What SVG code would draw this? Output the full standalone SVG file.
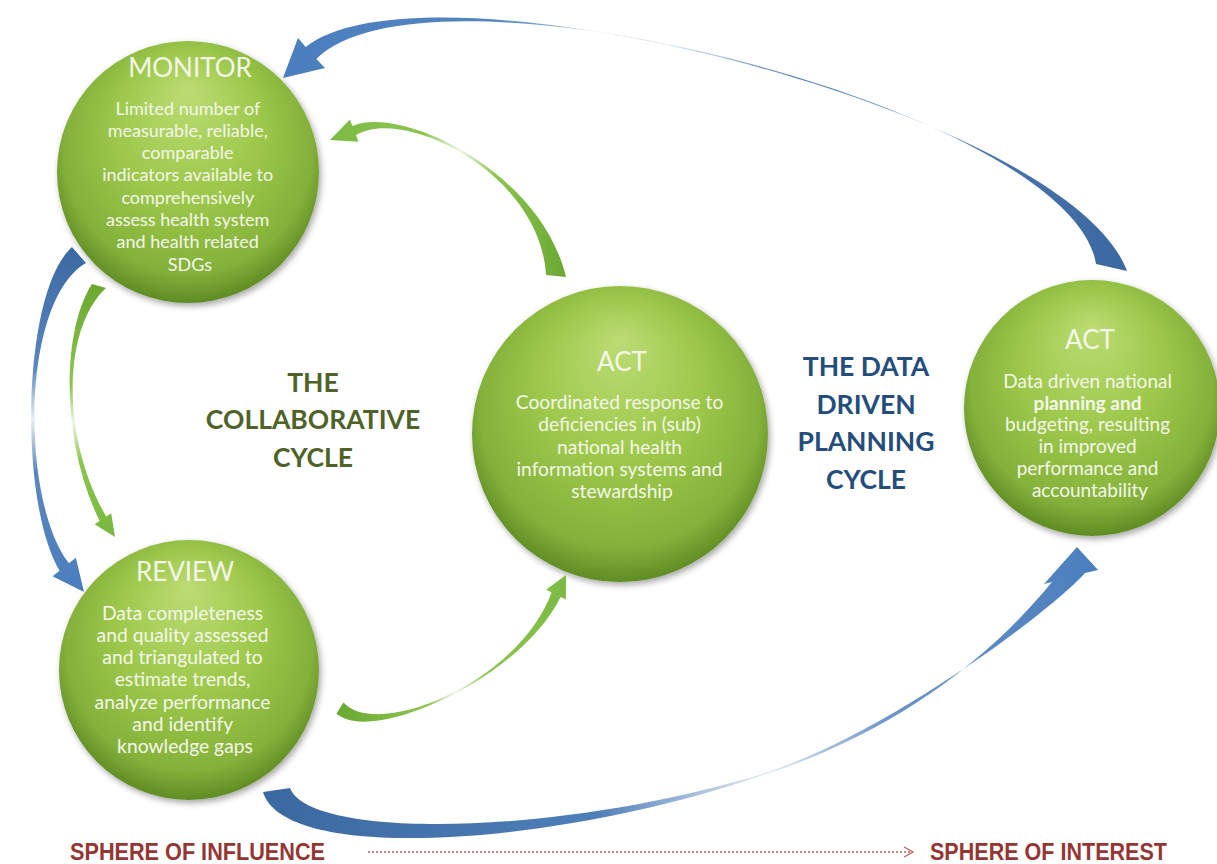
<svg xmlns="http://www.w3.org/2000/svg" width="1217" height="864" viewBox="0 0 1217 864">
<defs>
<style>
.ball{fill:url(#gball);filter:url(#sh);}
.t{font-family:Lato,"Open Sans","DejaVu Sans",sans-serif;fill:#f4f8ea;text-anchor:middle;}
.ttl{font-size:26px;}
.bd{font-size:18px;}
.lab{font-family:Lato,"Open Sans","DejaVu Sans",sans-serif;font-weight:bold;font-size:26.5px;text-anchor:middle;}
.sph{font-family:"Liberation Sans",Arial,sans-serif;font-weight:bold;font-size:24px;fill:#943634;}
</style>
<radialGradient id="gball" cx="0.5" cy="0.45" r="0.55" fx="0.5" fy="0.18">
<stop offset="0" stop-color="#bddc74"/>
<stop offset="0.5" stop-color="#9dc84b"/>
<stop offset="0.86" stop-color="#84b13a"/>
<stop offset="1" stop-color="#5f8c24"/>
</radialGradient>
<filter id="sh" x="-20%" y="-20%" width="140%" height="140%">
<feDropShadow dx="2" dy="3" stdDeviation="3" flood-color="#000" flood-opacity="0.35"/>
</filter>
<linearGradient id="bTop" gradientUnits="userSpaceOnUse" x1="283" y1="0" x2="1127" y2="0">
<stop offset="0" stop-color="#4a7ebd"/>
<stop offset="0.25" stop-color="#5585c0"/>
<stop offset="0.45" stop-color="#dfe8f3"/>
<stop offset="0.6" stop-color="#5b88bf"/>
<stop offset="1" stop-color="#3b68a0"/>
</linearGradient>
<linearGradient id="bBot" gradientUnits="userSpaceOnUse" x1="263" y1="0" x2="1098" y2="0">
<stop offset="0" stop-color="#3b68a0"/>
<stop offset="0.4" stop-color="#4f7fb8"/>
<stop offset="0.6" stop-color="#e3ebf5"/>
<stop offset="0.75" stop-color="#6b95c8"/>
<stop offset="1" stop-color="#4a7ebd"/>
</linearGradient>
<linearGradient id="bLeft" gradientUnits="userSpaceOnUse" x1="0" y1="247" x2="0" y2="592">
<stop offset="0" stop-color="#3b68a0"/>
<stop offset="0.35" stop-color="#5a87bf"/>
<stop offset="0.5" stop-color="#e6edf6"/>
<stop offset="0.65" stop-color="#5a87bf"/>
<stop offset="1" stop-color="#4a7ebd"/>
</linearGradient>
<linearGradient id="gLeft" gradientUnits="userSpaceOnUse" x1="0" y1="284" x2="0" y2="537">
<stop offset="0" stop-color="#6aa832"/>
<stop offset="0.4" stop-color="#8cc550"/>
<stop offset="0.55" stop-color="#eef6e4"/>
<stop offset="0.7" stop-color="#8cc550"/>
<stop offset="1" stop-color="#78b83f"/>
</linearGradient>
<linearGradient id="gTop" gradientUnits="userSpaceOnUse" x1="330" y1="0" x2="566" y2="0">
<stop offset="0" stop-color="#7cbb43"/>
<stop offset="0.4" stop-color="#8cc550"/>
<stop offset="0.55" stop-color="#eef6e4"/>
<stop offset="0.7" stop-color="#8cc550"/>
<stop offset="1" stop-color="#6aa832"/>
</linearGradient>
<linearGradient id="gBot" gradientUnits="userSpaceOnUse" x1="336" y1="0" x2="566" y2="0">
<stop offset="0" stop-color="#6aa832"/>
<stop offset="0.4" stop-color="#8cc550"/>
<stop offset="0.52" stop-color="#eef6e4"/>
<stop offset="0.65" stop-color="#8cc550"/>
<stop offset="1" stop-color="#7cbb43"/>
</linearGradient>
</defs>
<rect width="1217" height="864" fill="#ffffff"/>

<g id="node-monitor">
<circle class="ball" cx="188" cy="172" r="131"/>
<text class="t ttl" x="190" y="77">MONITOR</text>
<text class="t bd">
<tspan x="190" y="114.5">Limited number of</tspan>
<tspan x="190" y="136.8">measurable, reliable,</tspan>
<tspan x="190" y="159.1">comparable</tspan>
<tspan x="190" y="181.4">indicators available to</tspan>
<tspan x="190" y="203.7">comprehensively</tspan>
<tspan x="190" y="226">assess health system</tspan>
<tspan x="190" y="248.3">and health related</tspan>
<tspan x="190" y="270.6">SDGs</tspan>
</text>
</g>

<g id="node-review">
<circle class="ball" cx="189" cy="670" r="130"/>
<text class="t ttl" x="185" y="581">REVIEW</text>
<text class="t bd" style="font-size:19.3px">
<tspan x="185" y="619.5">Data completeness</tspan>
<tspan x="185" y="641.8">and quality assessed</tspan>
<tspan x="185" y="664.1">and  triangulated to</tspan>
<tspan x="185" y="686.4">estimate trends,</tspan>
<tspan x="185" y="708.7">analyze performance</tspan>
<tspan x="185" y="731">and identify</tspan>
<tspan x="185" y="753.3">knowledge  gaps</tspan>
</text>
</g>

<g id="node-act-collab">
<circle class="ball" cx="620" cy="434" r="148"/>
<text class="t ttl" x="622" y="371">ACT</text>
<text class="t bd" style="font-size:19.2px">
<tspan x="622" y="409">Coordinated response to</tspan>
<tspan x="622" y="431">deficiencies in (sub)</tspan>
<tspan x="622" y="453.5">national health</tspan>
<tspan x="622" y="476">information systems and</tspan>
<tspan x="622" y="498">stewardship</tspan>
</text>
</g>

<g id="node-act-plan">
<circle class="ball" cx="1092" cy="408" r="128"/>
<text class="t ttl" x="1090" y="349">ACT</text>
<text class="t bd" style="font-size:19px">
<tspan x="1090" y="388">Data driven national</tspan>
<tspan x="1090" y="409.5" font-weight="bold">planning and</tspan>
<tspan x="1090" y="431">budgeting, resulting</tspan>
<tspan x="1090" y="453">in improved</tspan>
<tspan x="1090" y="475">performance  and</tspan>
<tspan x="1090" y="497">accountability</tspan>
</text>
</g>

<g id="connectors">
<path fill="url(#bTop)" d="M1127,271 C1068,111 430,-50 305.7,47 L298,38 L283,78 L325,68 L316.3,59 C430,-54 1072,109 1096,264 Z"/>
<path fill="url(#bBot)" d="M263,792 C285,865 560,845 760,776 C880,738 980,670 1052,582 L1044,584 L1077,547 L1098,570 L1085,573 C1045,617 880,737 762,774 C560,836 310,840 290,788 Z"/>
<path fill="url(#bLeft)" d="M72,247 C22,292 18,500 59.5,570.7 L52.5,576.3 L84,592 L75.9,557.7 L68.9,563.3 C20,500 21,300 86,263 Z"/>
<path fill="url(#gLeft)" d="M92,284 C62,330 60,440 99.6,520.9 L94.6,524.2 L115,537 L111.2,513.2 L106.2,516.5 C62,440 61,330 106,288 Z"/>
<path fill="url(#gTop)" d="M566,277 C540,170 400,105 352.4,125.9 L349.9,119.4 L330,140 L358.5,141.8 L356,135.3 C402,106 540,172 546,275 Z"/>
<path fill="url(#gBot)" d="M336.5,713.6 C370,745 520,680 560.6,596.9 L565.9,599.6 L566,575 L546.3,589.6 L551.6,592.4 C518,683 378,740 343.5,702.4 Z"/>
<line x1="368" y1="852" x2="910" y2="852" stroke="#b9605d" stroke-width="1.3" stroke-dasharray="2,2"/>
<polyline points="904,847 913,852 904,857" fill="none" stroke="#b9605d" stroke-width="1.3"/>
</g>

<g id="labels">
<text class="lab" fill="#4f6228"><tspan x="313" y="392">THE</tspan><tspan x="313" y="429">COLLABORATIVE</tspan><tspan x="313" y="467">CYCLE</tspan></text>
<text class="lab" fill="#244d7c"><tspan x="866" y="376">THE DATA</tspan><tspan x="866" y="414">DRIVEN</tspan><tspan x="866" y="451">PLANNING</tspan><tspan x="866" y="489">CYCLE</tspan></text>
<text class="sph" x="70" y="860" textLength="255" lengthAdjust="spacingAndGlyphs">SPHERE OF INFLUENCE</text>
<text class="sph" x="930" y="860" textLength="237" lengthAdjust="spacingAndGlyphs">SPHERE OF INTEREST</text>
</g>
</svg>
